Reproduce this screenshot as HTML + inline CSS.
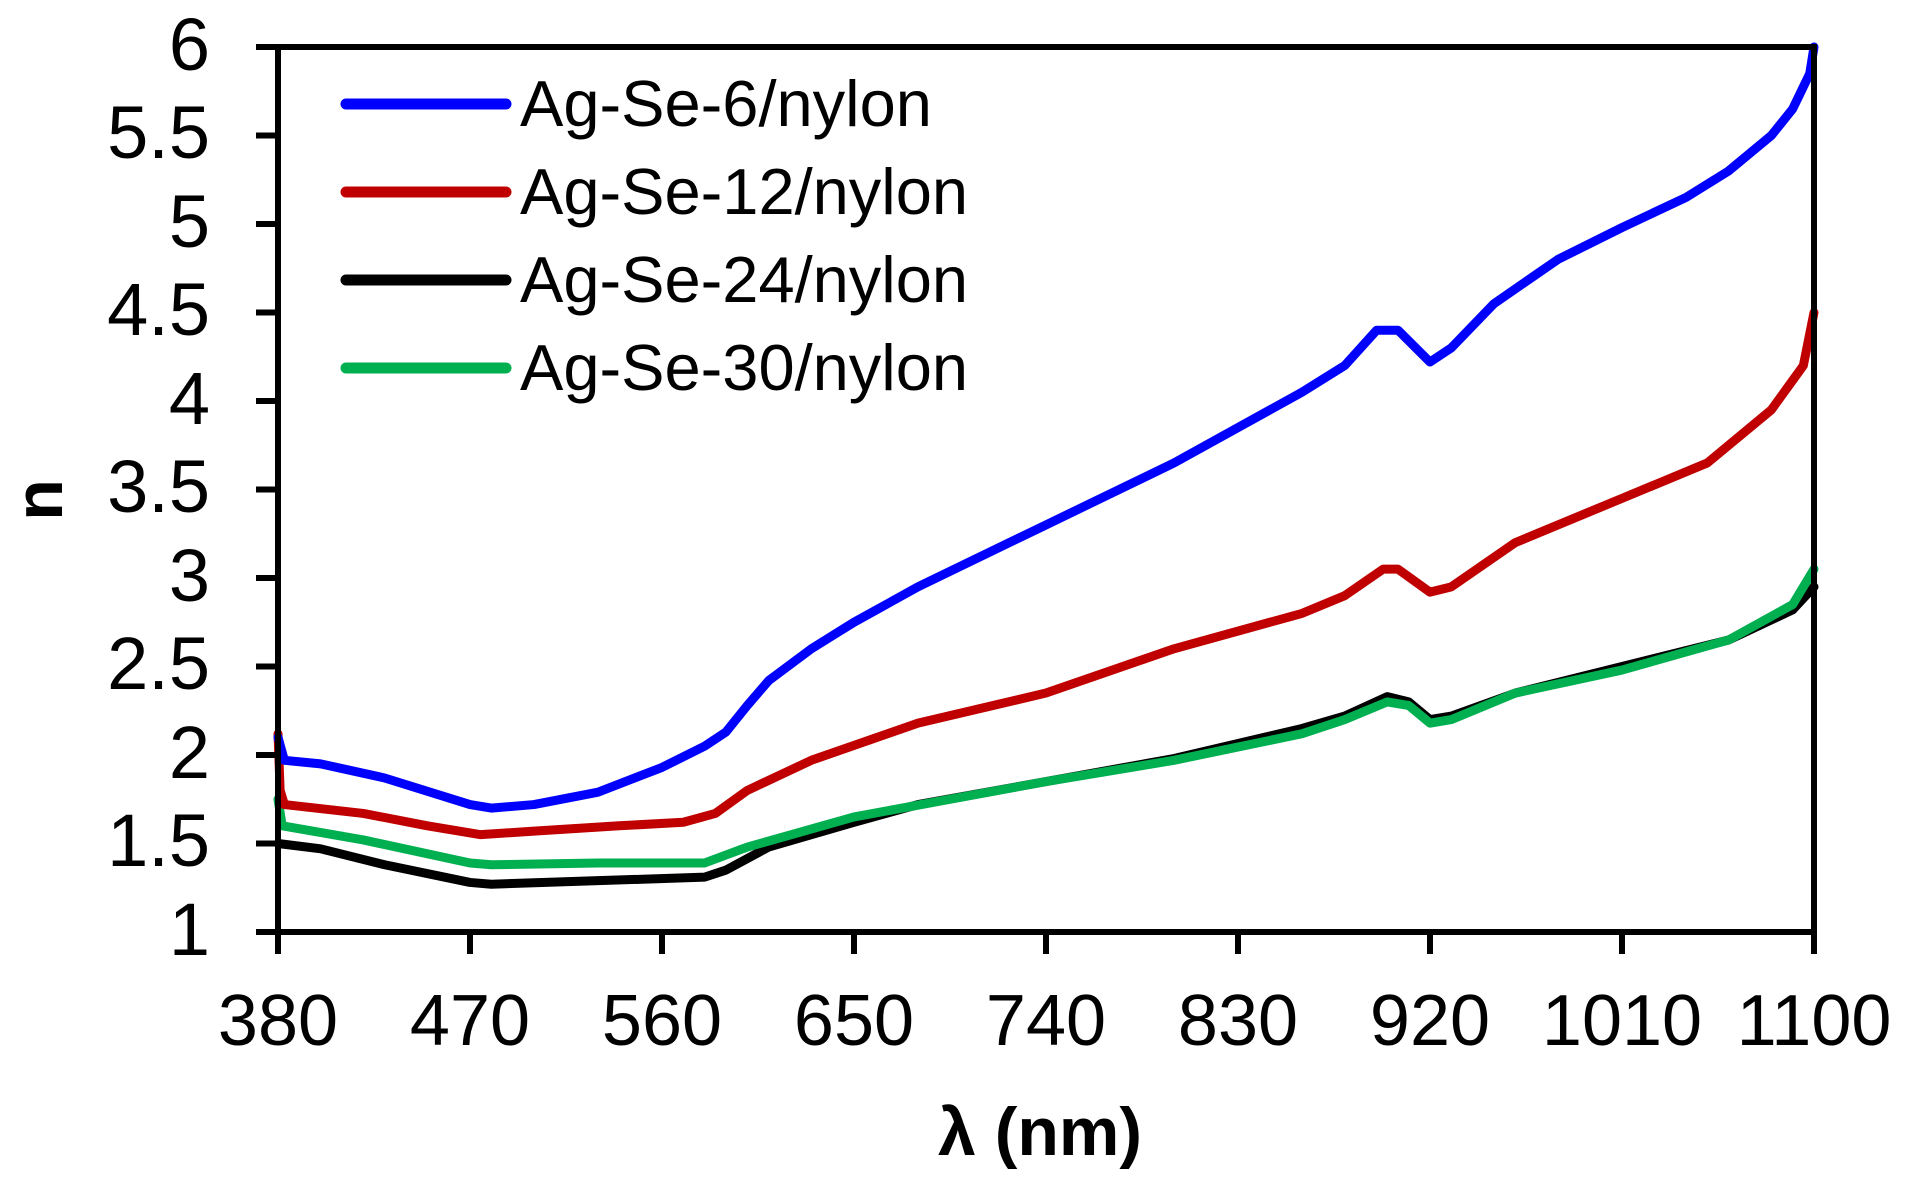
<!DOCTYPE html>
<html><head><style>
html,body{margin:0;padding:0;background:#fff;}
svg{display:block;}
text{font-family:"Liberation Sans",Arial,sans-serif;fill:#000;}
</style></head><body>
<svg width="1908" height="1190" viewBox="0 0 1908 1190" xmlns="http://www.w3.org/2000/svg">
<g fill="none" stroke-linejoin="round" stroke-linecap="round" transform="translate(278,932) scale(2.13333,-177) translate(-380,-1)">
<polyline vector-effect="non-scaling-stroke" stroke="#000" stroke-width="9" points="380,1.5 400,1.47 430,1.38 470,1.28 480,1.27 530,1.29 580,1.31 590,1.35 610,1.48 650,1.62 680,1.72 740,1.85 800,1.98 860,2.15 880,2.22 900,2.33 910,2.3 920,2.2 930,2.22 960,2.35 1010,2.5 1060,2.65 1090,2.82 1100,2.95"/>
<polyline vector-effect="non-scaling-stroke" stroke="#00b050" stroke-width="9" points="380,1.75 382,1.6 420,1.52 470,1.39 480,1.38 530,1.39 580,1.39 600,1.48 650,1.65 740,1.85 800,1.97 860,2.12 880,2.2 900,2.3 910,2.28 920,2.18 930,2.2 960,2.35 1010,2.48 1060,2.65 1090,2.85 1100,3.05"/>
<polyline vector-effect="non-scaling-stroke" stroke="#c00000" stroke-width="9" points="380,2.12 381,1.8 383,1.72 420,1.67 450,1.6 475,1.55 500,1.57 540,1.6 570,1.62 585,1.67 600,1.8 630,1.97 680,2.18 740,2.35 800,2.6 860,2.8 880,2.9 898,3.05 905,3.05 920,2.92 930,2.95 960,3.2 1010,3.45 1050,3.65 1080,3.95 1095,4.2 1100,4.5"/>
<polyline vector-effect="non-scaling-stroke" stroke="#0000ff" stroke-width="9" points="380,2.1 383,1.97 400,1.95 430,1.87 470,1.72 480,1.7 500,1.72 530,1.79 560,1.93 580,2.05 590,2.13 600,2.28 610,2.42 630,2.6 650,2.75 680,2.95 740,3.3 800,3.65 860,4.05 880,4.2 895,4.4 905,4.4 920,4.22 930,4.3 950,4.55 980,4.8 1010,4.98 1040,5.15 1060,5.3 1080,5.5 1090,5.65 1098,5.85 1100,6.0"/>
</g>
<g stroke="#000" stroke-width="6" fill="none">
<rect x="278" y="47" width="1536" height="885"/>
<path d="M256 47H278M256 135.5H278M256 224H278M256 312.5H278M256 401H278M256 489.5H278M256 578H278M256 666.5H278M256 755H278M256 843.5H278M256 932H278"/>
<path d="M278 932V954M470 932V954M662 932V954M854 932V954M1046 932V954M1238 932V954M1430 932V954M1622 932V954M1814 932V954"/>
</g>
<g font-size="74" text-anchor="end">
<text x="210" y="70">6</text><text x="210" y="158">5.5</text><text x="210" y="247">5</text><text x="210" y="335">4.5</text><text x="210" y="424">4</text><text x="210" y="512">3.5</text><text x="210" y="601">3</text><text x="210" y="689">2.5</text><text x="210" y="778">2</text><text x="210" y="866">1.5</text><text x="210" y="955">1</text>
</g>
<g font-size="72" text-anchor="middle">
<text x="278" y="1045">380</text><text x="470" y="1045">470</text><text x="662" y="1045">560</text><text x="854" y="1045">650</text><text x="1046" y="1045">740</text><text x="1238" y="1045">830</text><text x="1430" y="1045">920</text><text x="1622" y="1045">1010</text><text x="1814" y="1045">1100</text>
</g>
<text x="1040" y="1155" font-size="68" font-weight="bold" text-anchor="middle">λ (nm)</text>
<text transform="translate(62,500) rotate(-90)" font-size="68" font-weight="bold" text-anchor="middle">n</text>
<g stroke-width="11" stroke-linecap="round">
<line x1="346" y1="104" x2="506" y2="104" stroke="#0000ff"/>
<line x1="346" y1="192" x2="506" y2="192" stroke="#c00000"/>
<line x1="346" y1="280" x2="506" y2="280" stroke="#000"/>
<line x1="346" y1="368" x2="506" y2="368" stroke="#00b050"/>
</g>
<g font-size="65">
<text x="520" y="126">Ag-Se-6/nylon</text>
<text x="520" y="214">Ag-Se-12/nylon</text>
<text x="520" y="302">Ag-Se-24/nylon</text>
<text x="520" y="390">Ag-Se-30/nylon</text>
</g>
</svg>
</body></html>
